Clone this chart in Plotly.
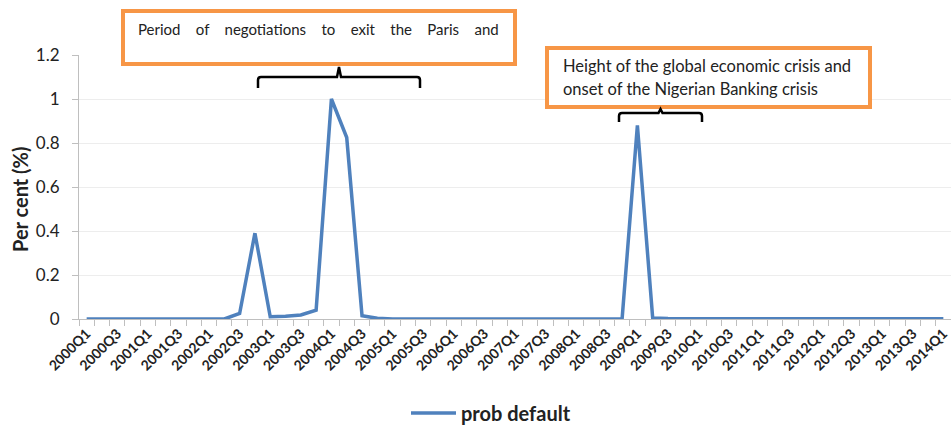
import plotly.graph_objects as go

# ---- data ----
quarters = [f"{y}Q{q}" for y in range(2000, 2014) for q in range(1, 5)] + ["2014Q1"]
prob_default = [
    0, 0, 0, 0, 0, 0, 0, 0, 0, 0,          # 2000Q1-2002Q2
    0.025, 0.39, 0.01, 0.012, 0.018, 0.04,  # 2002Q3-2003Q4
    1.0, 0.825, 0.015, 0.003,               # 2004Q1-2004Q4
    0, 0, 0, 0, 0, 0, 0, 0, 0, 0, 0, 0, 0, 0, 0, 0,  # 2005Q1-2008Q4
    0.88, 0.005,                            # 2009Q1-2009Q2
    0.002, 0.002, 0.001, 0.001, 0.001, 0.001, 0.001, 0.001, 0.001, 0.001,
    0.001, 0.001, 0.001, 0.001, 0.001, 0.001, 0.001, 0.001, 0.001,
]
y_ticks = [0, 0.2, 0.4, 0.6, 0.8, 1, 1.2]
y_ticktext = ["0", "0.2", "0.4", "0.6", "0.8", "1", "1.2"]

idx = list(range(len(quarters)))
label_idx = idx[::2]
label_text = quarters[::2]

W, H = 951, 425
L, R, T, B = 79, 0, 55, 106
PW, PH = W - L - R, H - T - B

def px(x):
    return (x - L) / PW

def py(y):
    return (H - B - y) / PH

FONT = "Lato"
fig = go.Figure()
fig.add_trace(go.Scatter(
    x=idx, y=prob_default, mode="lines", name="prob default",
    line=dict(color="#4F81BD", width=3.5),
))

fig.update_layout(
    width=W, height=H,
    margin=dict(l=L, r=R, t=T, b=B, autoexpand=False),
    plot_bgcolor="white", paper_bgcolor="white",
    font=dict(family=FONT, color="#222"),
    showlegend=True,
    legend=dict(orientation="h", x=px(491), y=py(413), xanchor="center", yanchor="middle",
                font=dict(size=20, family=FONT, weight="bold", color="#222"),
                itemwidth=45),
)
fig.update_xaxes(
    automargin=False,
    range=[-0.5, len(quarters) - 0.5],
    tickmode="array", tickvals=label_idx, ticktext=label_text,
    tickangle=-45, ticks="", showgrid=False, zeroline=False,
    tickfont=dict(size=14, family=FONT, weight="bold", color="#222"),
    showline=True, linecolor="#BFBFBF", linewidth=1,
    minor=dict(tick0=-0.5, dtick=1, ticks="outside", ticklen=6, tickcolor="#BFBFBF", showgrid=False),
)
fig.update_yaxes(
    automargin=False,
    range=[0, 1.2], tickmode="array", tickvals=y_ticks, ticktext=y_ticktext,
    ticks="outside", ticklen=6, tickcolor="#BFBFBF", ticklabelstandoff=9,
    showgrid=True, gridcolor="#EDEDED", zeroline=False,
    showline=True, linecolor="#BFBFBF", linewidth=1,
    tickfont=dict(size=17, family=FONT, color="#222"),
)

# y-axis title
fig.add_annotation(xref="paper", yref="paper", x=px(20), y=py(200), text="Per cent (%)",
                   textangle=-90, showarrow=False, xanchor="center", yanchor="middle",
                   font=dict(size=20, family=FONT, weight="bold", color="#222"))

ORANGE = "#F79646"
# box 1
fig.add_shape(type="rect", xref="paper", yref="paper", x0=px(123), x1=px(515), y0=py(11), y1=py(64),
              line=dict(color=ORANGE, width=4), fillcolor="white", layer="above")
nb = "\u00a0"
gap = " " + nb * 3
txt1 = gap.join(["Period", "of", "negotiations", "to", "exit", "the", "Paris", "and"])
fig.add_annotation(xref="paper", yref="paper", x=px(136), y=py(29), text=txt1, showarrow=False,
                   xanchor="left", yanchor="middle", font=dict(size=15, family=FONT, color="#222"))
# box 2
fig.add_shape(type="rect", xref="paper", yref="paper", x0=px(547), x1=px(870), y0=py(48), y1=py(107),
              line=dict(color=ORANGE, width=4), fillcolor="white", layer="above")
fig.add_annotation(xref="paper", yref="paper", x=px(561), y=py(66),
                   text="Height of the global economic crisis and", showarrow=False,
                   xanchor="left", yanchor="middle", font=dict(size=16.5, family=FONT, color="#222"))
fig.add_annotation(xref="paper", yref="paper", x=px(561), y=py(89),
                   text="onset of the Nigerian Banking crisis", showarrow=False,
                   xanchor="left", yanchor="middle", font=dict(size=16.5, family=FONT, color="#222"))

# braces
def brace(x0, x1, yh, yend, ytop):
    xc = (x0 + x1) / 2
    r = 3
    p = (f"M {px(x0)},{py(yend)} L {px(x0)},{py(yh + r)} Q {px(x0)},{py(yh)} {px(x0 + r)},{py(yh)} "
         f"L {px(xc - 2)},{py(yh)} L {px(xc)},{py(ytop)} L {px(xc + 2)},{py(yh)} "
         f"L {px(x1 - r)},{py(yh)} Q {px(x1)},{py(yh)} {px(x1)},{py(yh + r)} L {px(x1)},{py(yend)}")
    fig.add_shape(type="path", xref="paper", yref="paper", path=p,
                  line=dict(color="black", width=2.5), layer="above")

brace(258, 420, 77, 88, 67)
brace(619, 702, 113, 122, 109)

fig.write_html("out.html", config={"displayModeBar": False},
               post_script="document.body.style.margin='0';document.body.style.overflow='hidden';")
